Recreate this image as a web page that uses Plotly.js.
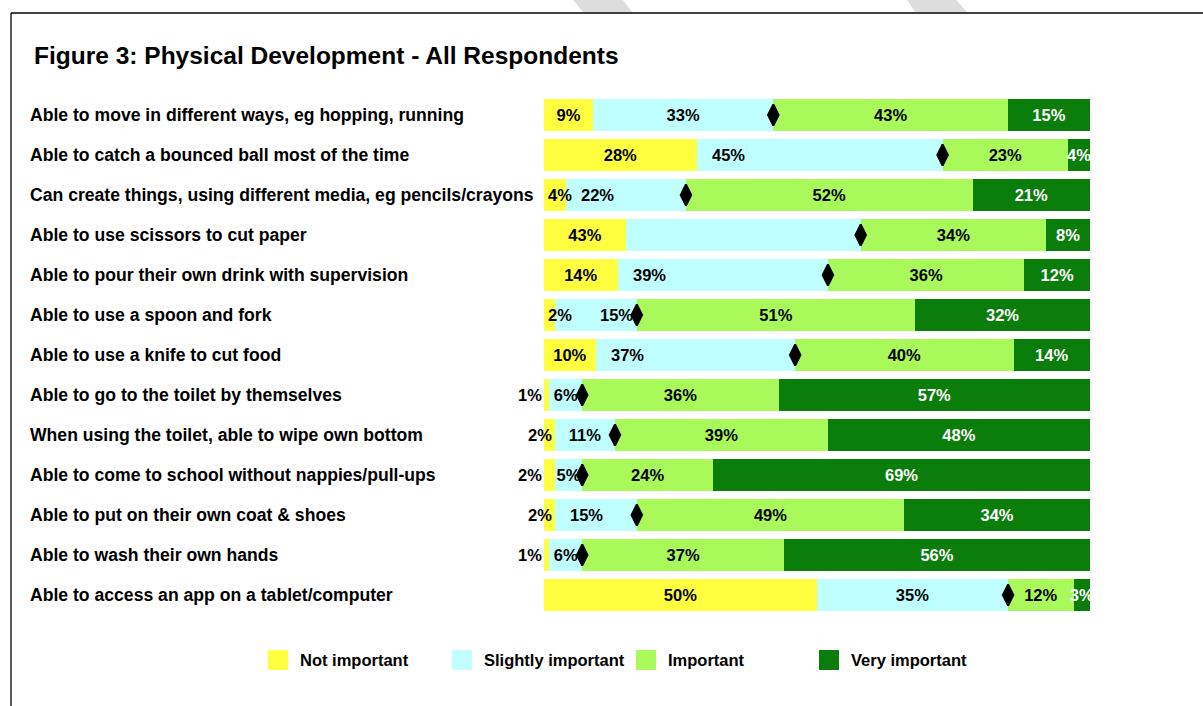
<!DOCTYPE html>
<html>
<head>
<meta charset="utf-8">
<script src="https://cdn.plot.ly/plotly-3.0.1.min.js"></script>
<style>
html,body{margin:0;padding:0;background:#fff;}
#chart{width:1203px;height:706px;}
</style>
</head>
<body>
<div id="chart"></div>
<script>
// ---- Data ----
var categories = [
  "Able to move in different ways, eg hopping, running",
  "Able to catch a bounced ball most of the time",
  "Can create things, using different media, eg pencils/crayons",
  "Able to use scissors to cut paper",
  "Able to pour their own drink with supervision",
  "Able to use a spoon and fork",
  "Able to use a knife to cut food",
  "Able to go to the toilet by themselves",
  "When using the toilet, able to wipe own bottom",
  "Able to come to school without nappies/pull-ups",
  "Able to put on their own coat & shoes",
  "Able to wash their own hands",
  "Able to access an app on a tablet/computer"
];
var seriesNames = ["Not important", "Slightly important", "Important", "Very important"];

// segment widths as drawn (percent)
var notImportant      = [9, 28, 4, 15, 13.5, 2, 9.5, 1, 2, 2, 2, 1, 50];
var slightlyImportant = [33, 45, 22, 43, 38.5, 15, 36.5, 6, 11, 5, 15, 6, 35];
var important         = [43, 23, 52.5, 34, 36, 51, 40, 36, 39, 24, 49, 37, 12];
var veryImportant     = [15, 4, 21.5, 8, 12, 32, 14, 57, 48, 69, 34, 56, 3];

// data labels as printed on the chart
var notImportantText      = ["9%", "28%", "4%", "43%", "14%", "2%", "10%", "1%", "2%", "2%", "2%", "1%", "50%"];
// where a small "Not important" label sits relative to the bar start ("" = centred inside the bar)
var notImportantLabelSide = ["", "", "left", "", "", "left", "", "right", "center", "right", "center", "right", ""];
var slightlyImportantText = ["33%", "45%", "22%", "", "39%", "15%", "37%", "6%", "11%", "5%", "15%", "6%", "35%"];
// where the "Slightly important" label sits within its segment
var slightlyImportantLabelAlign = ["middle", "start", "start", "middle", "start", "end", "start",
                                   "middle", "middle", "middle", "start", "middle", "middle"];
var importantText         = ["43%", "23%", "52%", "34%", "36%", "51%", "40%", "36%", "39%", "24%", "49%", "37%", "12%"];
var veryImportantText     = ["15%", "4%", "21%", "8%", "12%", "32%", "14%", "57%", "48%", "69%", "34%", "56%", "3%"];

// diamond marker positions (percent along the bar)
var diamondPos = [42, 73, 26, 58, 52, 17, 46, 7, 13, 7, 17, 7, 85];

var colors = ["#FFFF3F", "#BFFFFF", "#A9F95A", "#0A7D0A"];
var labelColors = ["#000000", "#000000", "#000000", "#FFFFFF"];

// ---- Build traces ----
var FONT = "Liberation Sans, Arial, sans-serif";
var LBL = 16.5;
var vals = [notImportant, slightlyImportant, important, veryImportant];
var texts = [
  notImportantText.map(function(t, i){ return notImportantLabelSide[i] ? "" : t; }),
  slightlyImportantText.map(function(t, i){ return slightlyImportantLabelAlign[i] === "middle" ? t : ""; }),
  importantText, veryImportantText
];

var traces = vals.map(function(v, k){
  return {
    type: "bar",
    orientation: "h",
    name: seriesNames[k],
    showlegend: false,
    y: categories,
    x: v,
    text: texts[k],
    textposition: "inside",
    insidetextanchor: "middle",
    textangle: 0,
    cliponaxis: k !== 3 ? false : true,
    textfont: {family: FONT, size: LBL, color: labelColors[k], weight: "bold"},
    marker: {color: colors[k], line: {width: 0}},
    hoverinfo: "skip"
  };
});

traces.push({
  type: "scatter",
  mode: "markers",
  name: "Mean",
  showlegend: false,
  y: categories,
  x: diamondPos,
  marker: {symbol: "diamond-tall", size: 15, color: "#000000", line: {color: "#000000", width: 2}},
  cliponaxis: false,
  hoverinfo: "skip"
});

// ---- Annotations ----
var annotations = [];
categories.forEach(function(c){
  annotations.push({
    xref: "paper", yref: "y", x: -0.9451, y: c,
    xanchor: "left", yanchor: "middle",
    text: c, showarrow: false,
    font: {family: FONT, size: 17.6, color: "#000", weight: "bold"}
  });
});
notImportantLabelSide.forEach(function(side, i){
  if (side) {
    annotations.push({
      xref: "x", yref: "y", x: 0, y: categories[i],
      xanchor: side, yanchor: "middle",
      xshift: side === "left" ? 2 : (side === "center" ? -4 : 0),
      text: notImportantText[i], showarrow: false,
      font: {family: FONT, size: LBL, color: "#000", weight: "bold"}
    });
  }
});
slightlyImportantLabelAlign.forEach(function(al, i){
  if (al === "start") {
    annotations.push({
      xref: "x", yref: "y", x: notImportant[i], y: categories[i],
      xanchor: "left", yanchor: "middle", xshift: 13,
      text: slightlyImportantText[i], showarrow: false,
      font: {family: FONT, size: LBL, color: "#000", weight: "bold"}
    });
  } else if (al === "end") {
    annotations.push({
      xref: "x", yref: "y", x: notImportant[i] + slightlyImportant[i], y: categories[i],
      xanchor: "right", yanchor: "middle", xshift: -2,
      text: slightlyImportantText[i], showarrow: false,
      font: {family: FONT, size: LBL, color: "#000", weight: "bold"}
    });
  }
});

// ---- Custom legend (large square swatches) ----
var legendSwatchX = [-0.5055, -0.1685, 0.1685, 0.5037];
var shapes = [];
seriesNames.forEach(function(n, k){
  var x0 = legendSwatchX[k];
  shapes.push({type: "rect", xref: "paper", yref: "paper",
    x0: x0, x1: x0 + 0.0366, y0: -0.0673, y1: -0.1058,
    fillcolor: colors[k], line: {width: 0}});
  annotations.push({
    xref: "paper", yref: "paper", x: x0 + 0.055, y: -0.0865,
    xanchor: "left", yanchor: "middle", showarrow: false,
    text: n, font: {family: FONT, size: LBL, color: "#000", weight: "bold"}
  });
});

// ---- Frame lines & faint watermark stripes ----
shapes.push(
  {type: "line", xref: "paper", yref: "paper", x0: -0.9762, x1: 1.21, y0: 1.1577, y1: 1.1577,
   line: {color: "#000", width: 1.3}},
  {type: "line", xref: "paper", yref: "paper", x0: -0.9762, x1: -0.9762, y0: 1.1577, y1: -0.2,
   line: {color: "#000", width: 1.3}},
  {type: "path", xref: "paper", yref: "paper", layer: "below",
   path: "M0.0476,1.19 L0.1392,1.19 L0.1612,1.1595 L0.0714,1.1595 Z",
   fillcolor: "#DDDDDD", line: {width: 0}},
  {type: "path", xref: "paper", yref: "paper", layer: "below",
   path: "M0.6612,1.19 L0.7491,1.19 L0.7747,1.1595 L0.6795,1.1595 Z",
   fillcolor: "#DDDDDD", line: {width: 0}}
);

var layout = {
  width: 1203,
  height: 706,
  paper_bgcolor: "#FFFFFF",
  plot_bgcolor: "#FFFFFF",
  margin: {l: 544, r: 113, t: 95, b: 91},
  barmode: "stack",
  bargap: 0.22,
  uniformtext: {mode: "show", minsize: LBL},
  title: {
    text: "Figure 3: Physical Development - All Respondents",
    x: 0.0283, xanchor: "left", xref: "container",
    y: 0.922, yanchor: "middle", yref: "container",
    font: {family: FONT, size: 24.5, color: "#000", weight: "bold"}
  },
  xaxis: {range: [0, 100], visible: false, fixedrange: true},
  yaxis: {type: "category", range: [12.5, -0.5], autorange: false, showticklabels: false,
          showgrid: false, zeroline: false, showline: false, ticks: "", fixedrange: true},
  showlegend: false,
  annotations: annotations,
  shapes: shapes
};

Plotly.newPlot("chart", traces, layout, {displayModeBar: false, staticPlot: true});
</script>
</body>
</html>
